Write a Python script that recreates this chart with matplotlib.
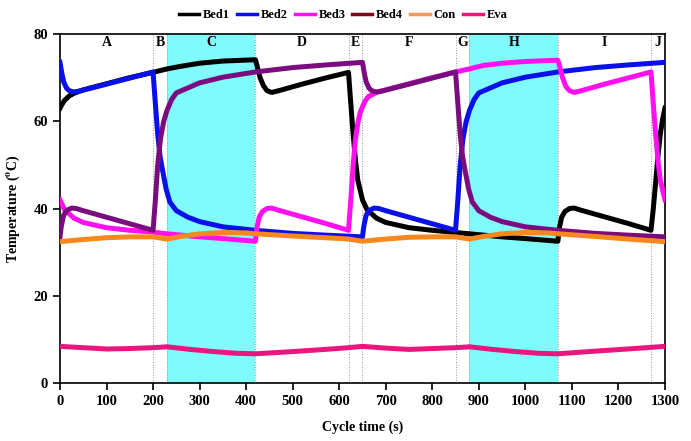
import matplotlib
matplotlib.use('Agg')
import matplotlib.pyplot as plt
from matplotlib.lines import Line2D

plt.rcParams['font.family'] = ['Liberation Serif', 'DejaVu Serif']
plt.rcParams['font.weight'] = 'bold'
plt.rcParams['mathtext.fontset'] = 'stix'

# Bed temperatures (time in s, temperature in C)
t_bed1 = [0, 5, 10, 20, 30, 50, 100, 150, 200, 230, 260, 300, 350, 420,
          424, 430, 437, 445, 455, 470, 520, 570, 620,
          625, 630, 635, 640, 650, 660, 680, 700, 750, 800, 850, 880, 950, 1000, 1070,
          1073, 1078, 1085, 1095, 1105, 1120, 1170, 1220, 1270,
          1275, 1280, 1285, 1290, 1295, 1300]
bed1 = [63.0, 64.0, 64.8, 65.8, 66.4, 67.2, 68.6, 70.0, 71.2, 72.0, 72.6, 73.3, 73.8, 74.1,
        72.5, 70.0, 68.2, 67.0, 66.6, 67.0, 68.5, 69.9, 71.2,
        64.0, 57.0, 51.0, 46.5, 42.0, 39.7, 37.8, 36.8, 35.6, 35.0, 34.5, 34.2, 33.5, 33.1, 32.5,
        35.5, 38.0, 39.3, 40.0, 40.1, 39.6, 38.1, 36.6, 35.0,
        40.0, 46.0, 52.0, 57.0, 60.5, 63.0]

t_bed2 = [0, 4, 8, 14, 20, 30, 45, 100, 150, 200,
          205, 210, 215, 220, 228, 236, 250, 275, 300, 350, 420, 500, 570, 650,
          653, 658, 665, 675, 685, 700, 750, 800, 850,
          855, 860, 866, 873, 880, 890, 900, 950, 1000, 1070, 1150, 1220, 1300]
bed2 = [73.5, 71.0, 69.0, 67.6, 67.0, 66.7, 67.0, 68.5, 69.9, 71.3,
        64.0, 57.0, 52.0, 49.0, 44.5, 41.5, 39.5, 38.0, 37.0, 35.8, 35.0, 34.3, 33.9, 33.5,
        36.0, 38.5, 39.6, 40.1, 40.0, 39.5, 38.0, 36.5, 35.0,
        42.0, 50.0, 56.0, 60.0, 62.5, 65.0, 66.5, 68.8, 70.1, 71.3, 72.3, 72.9, 73.5]

t_bed3 = [0, 10, 30, 50, 100, 150, 200, 230, 300, 350, 420,
          423, 428, 435, 445, 455, 470, 520, 570, 620,
          625, 630, 635, 640, 645, 650, 655, 662, 680, 700, 750, 800, 850, 880, 910, 950, 1000, 1070,
          1074, 1080, 1087, 1095, 1105, 1120, 1170, 1220, 1270,
          1275, 1280, 1285, 1290, 1300]
bed3 = [42.0, 39.7, 37.8, 36.8, 35.6, 35.0, 34.6, 34.2, 33.5, 33.1, 32.5,
        35.5, 38.0, 39.3, 40.0, 40.1, 39.6, 38.1, 36.6, 35.0,
        42.0, 50.0, 56.0, 59.5, 62.0, 63.3, 64.5, 65.6, 66.6, 67.2, 68.6, 70.0, 71.3, 72.0, 72.8, 73.3, 73.7, 74.0,
        72.5, 70.0, 68.0, 67.0, 66.6, 67.0, 68.5, 69.9, 71.3,
        64.0, 57.0, 51.0, 46.5, 42.0]

t_bed4 = [0, 3, 8, 15, 25, 35, 50, 100, 150, 200,
          205, 210, 216, 223, 230, 240, 250, 300, 350, 420, 500, 570, 650,
          654, 658, 664, 670, 680, 695, 750, 800, 850,
          855, 860, 865, 870, 878, 886, 900, 925, 950, 1000, 1070, 1150, 1220, 1300]
bed4 = [33.5, 36.0, 38.5, 39.6, 40.1, 40.0, 39.5, 38.0, 36.5, 35.0,
        42.0, 50.0, 56.0, 60.0, 62.5, 65.0, 66.5, 68.8, 70.1, 71.3, 72.3, 72.9, 73.5,
        71.0, 69.0, 67.6, 67.0, 66.7, 67.0, 68.5, 69.9, 71.3,
        64.0, 57.0, 52.0, 49.0, 44.5, 41.5, 39.5, 38.0, 37.0, 35.8, 35.0, 34.3, 33.9, 33.5]

t_con = [0, 50, 100, 150, 200, 230, 260, 300, 350, 400, 420, 500, 570, 620, 650,
         700, 750, 800, 850, 880, 910, 950, 1000, 1050, 1070, 1150, 1220, 1300]
con = [32.4, 32.9, 33.3, 33.5, 33.5, 33.0, 33.6, 34.2, 34.5, 34.4, 34.2, 33.7, 33.3, 33.0, 32.5,
       33.0, 33.4, 33.5, 33.5, 33.0, 33.6, 34.2, 34.5, 34.4, 34.2, 33.6, 33.0, 32.4]

t_eva = [0, 50, 100, 150, 200, 230, 280, 330, 380, 420, 500, 570, 620, 650,
         700, 750, 800, 850, 880, 930, 980, 1030, 1070, 1150, 1220, 1300]
eva = [8.4, 8.1, 7.8, 7.9, 8.1, 8.3, 7.7, 7.2, 6.8, 6.7, 7.2, 7.7, 8.1, 8.4,
       8.0, 7.7, 7.9, 8.1, 8.3, 7.7, 7.2, 6.8, 6.7, 7.3, 7.8, 8.4]

# phase boundaries and names
edges = [0, 200, 230, 420, 620, 650, 850, 880, 1070, 1270, 1300]
phases = ['A', 'B', 'C', 'D', 'E', 'F', 'G', 'H', 'I', 'J']
shaded = [(230, 420), (880, 1070)]

fig = plt.figure(figsize=(6.91, 4.41), dpi=100)
ax = fig.add_axes([0.0868, 0.1315, 0.8755, 0.7914])

for a, b in shaded:
    ax.axvspan(a, b, color='#80FAFA', lw=0, zorder=0)
for x in edges[1:-1]:
    ax.axvline(x, color='#999999', ls=':', lw=0.7, zorder=1)
for i, name in enumerate(phases):
    ax.text((edges[i] + edges[i + 1]) / 2, 78, name, ha='center', va='center',
            fontsize=10, fontweight='bold')

lw = 3.6
ax.plot(t_bed1, bed1, color='black', lw=lw, zorder=3)
ax.plot(t_bed2, bed2, color='#0A10E8', lw=lw, zorder=3)
ax.plot(t_bed3, bed3, color='#FF10F0', lw=lw, zorder=3)
ax.plot(t_bed4, bed4, color='#7A0C80', lw=lw, zorder=3)
ax.plot(t_con, con, color='#F7881E', lw=lw, zorder=3)
ax.plot(t_eva, eva, color='#E8167E', lw=lw, zorder=3)

ax.set_xlim(0, 1300)
ax.set_ylim(0, 80)
ax.set_xticks(range(0, 1301, 100))
ax.set_yticks([0, 20, 40, 60, 80])
ax.tick_params(direction='out', length=5, width=1.2, labelsize=10.5)
for s in ax.spines.values():
    s.set_linewidth(1.2)
ax.set_xlabel('Cycle time (s)', fontsize=10, fontweight='bold', labelpad=9)
ax.set_ylabel(r'Temperature ($^\mathrm{o}$C)', fontsize=10, fontweight='bold', labelpad=8)

handles = [Line2D([], [], color='black', lw=2.5),
           Line2D([], [], color='#0A10E8', lw=2.5),
           Line2D([], [], color='#FF10F0', lw=2.5),
           Line2D([], [], color='#7A0A1A', lw=2.5),
           Line2D([], [], color='#F5965A', lw=2.5),
           Line2D([], [], color='#E8167E', lw=2.5)]
fig.legend(handles, ['Bed1', 'Bed2', 'Bed3', 'Bed4', 'Con', 'Eva'],
           loc='center', bbox_to_anchor=(0.497, 0.966), ncol=6, frameon=False,
           fontsize=9, handlelength=1.6, handletextpad=0.3, columnspacing=0.55)

fig.savefig('out.png', dpi=100)
